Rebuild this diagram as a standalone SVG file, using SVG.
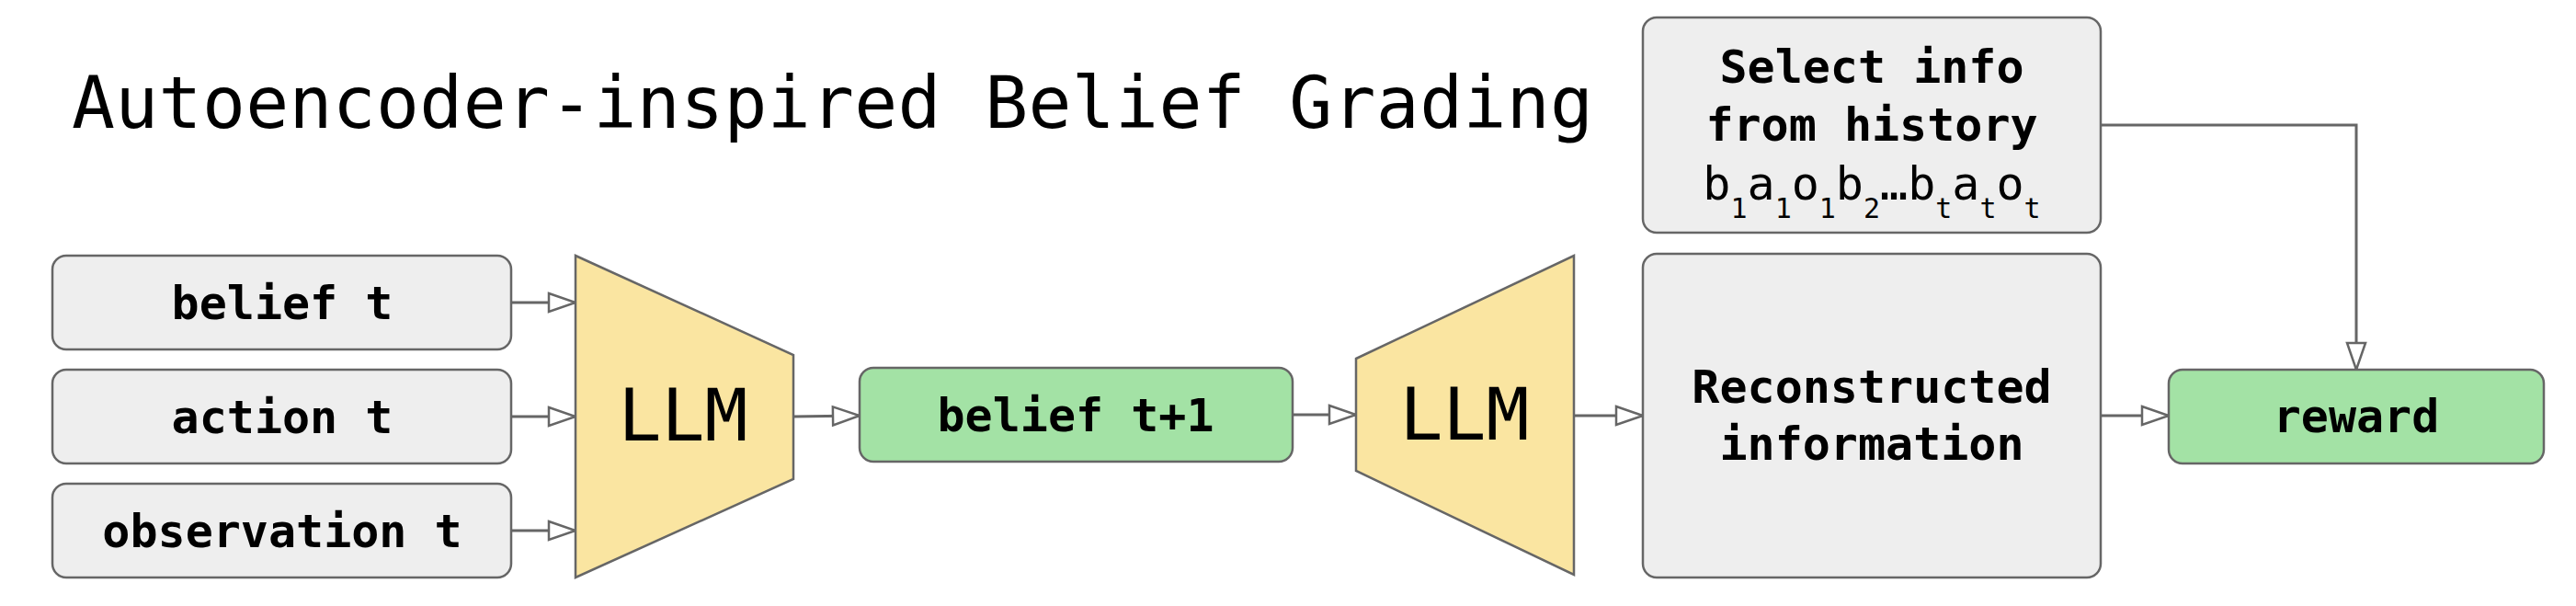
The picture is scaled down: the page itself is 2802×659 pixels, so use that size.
<svg xmlns="http://www.w3.org/2000/svg" width="2802" height="659" viewBox="0 0 2802 659">
<style>
.box{fill:#eeeeee;stroke:#666666;stroke-width:2.5}
.grn{fill:#a3e2a5;stroke:#666666;stroke-width:2.5}
.llm{fill:#fae5a1;stroke:#666666;stroke-width:2.5}
.lbl{font-family:"DejaVu Sans Mono","Liberation Mono",monospace;font-size:50px;font-weight:bold;fill:#000;text-anchor:middle}
.big{font-family:"DejaVu Sans Mono","Liberation Mono",monospace;font-size:78px;fill:#000;text-anchor:middle}
.conn{fill:none;stroke:#666666;stroke-width:3}
</style>
<defs>
<marker id="arr" markerUnits="userSpaceOnUse" markerWidth="34" markerHeight="26" refX="31" refY="12" orient="auto">
<path d="M2,2 L31,12 L2,22 Z" fill="#ffffff" stroke="#666666" stroke-width="2.5"/>
</marker>
</defs>
<rect width="2802" height="659" fill="#ffffff"/>
<text id="title" x="78" y="139" font-family="DejaVu Sans Mono, Liberation Mono, monospace" font-size="78" textLength="1655" fill="#000">Autoencoder-inspired Belief Grading</text>
<g id="connectors">
<path class="conn" d="M556,329 L626,329" marker-end="url(#arr)"/>
<path class="conn" d="M556,453 L626,453" marker-end="url(#arr)"/>
<path class="conn" d="M556,577 L626,577" marker-end="url(#arr)"/>
<path class="conn" d="M863,453 L935,452" marker-end="url(#arr)"/>
<path class="conn" d="M1406,451 L1475,451" marker-end="url(#arr)"/>
<path class="conn" d="M1712,452 L1787,452" marker-end="url(#arr)"/>
<path class="conn" d="M2285,452 L2359,452" marker-end="url(#arr)"/>
<path class="conn" d="M2285,136 L2563,136 L2563,402" marker-end="url(#arr)"/>
</g>
<g id="belief_t">
<rect class="box" x="57" y="278" width="499" height="102" rx="15"/>
<text class="lbl" x="307" y="347">belief t</text>
</g>
<g id="action_t">
<rect class="box" x="57" y="402" width="499" height="102" rx="15"/>
<text class="lbl" x="307" y="471">action t</text>
</g>
<g id="observation_t">
<rect class="box" x="57" y="526" width="499" height="102" rx="15"/>
<text class="lbl" x="307" y="595">observation t</text>
</g>
<g id="llm1">
<polygon class="llm" points="626,278 863,386 863,521 626,628"/>
<text class="big" x="743" y="479">LLM</text>
</g>
<g id="belief_t1">
<rect class="grn" x="935" y="400" width="471" height="102" rx="15"/>
<text class="lbl" x="1170" y="469">belief t+1</text>
</g>
<g id="llm2">
<polygon class="llm" points="1475,390 1712,278 1712,625 1475,512"/>
<text class="big" x="1593" y="478">LLM</text>
</g>
<g id="reconstructed">
<rect class="box" x="1787" y="276" width="498" height="352" rx="15"/>
<text class="lbl" x="2036" y="438">Reconstructed</text>
<text class="lbl" x="2036" y="500">information</text>
</g>
<g id="select_info">
<rect class="box" x="1787" y="19" width="498" height="234" rx="15"/>
<text class="lbl" x="2036" y="90">Select info</text>
<text class="lbl" x="2036" y="153">from history</text>
<text class="lbl" x="2036" y="217" font-weight="normal" style="font-weight:normal">b<tspan font-size="30" dy="20">1</tspan><tspan dy="-20">a</tspan><tspan font-size="30" dy="20">1</tspan><tspan dy="-20">o</tspan><tspan font-size="30" dy="20">1</tspan><tspan dy="-20">b</tspan><tspan font-size="30" dy="20">2</tspan><tspan dy="-20">…b</tspan><tspan font-size="30" dy="20">t</tspan><tspan dy="-20">a</tspan><tspan font-size="30" dy="20">t</tspan><tspan dy="-20">o</tspan><tspan font-size="30" dy="20">t</tspan></text>
</g>
<g id="reward">
<rect class="grn" x="2359" y="402" width="408" height="102" rx="15"/>
<text class="lbl" x="2563" y="470">reward</text>
</g>
</svg>
